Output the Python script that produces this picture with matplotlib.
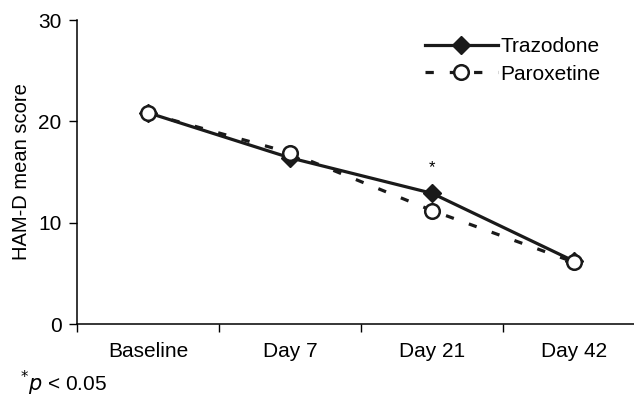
import matplotlib
matplotlib.use("Agg")
import matplotlib.pyplot as plt
import numpy as np

plt.rcParams['font.family'] = ['Liberation Sans', 'DejaVu Sans']

categories = ["Baseline", "Day 7", "Day 21", "Day 42"]
trazodone = [20.85, 16.4, 12.9, 6.2]
paroxetine = [20.8, 16.9, 11.2, 6.1]
yticks = [0, 10, 20, 30]

fig = plt.figure(figsize=(6.34, 3.97), dpi=100)
W, H = 634, 397
ax = fig.add_axes([77 / W, (H - 324) / H, 568 / W, 304 / H])

x = np.arange(len(categories)) + 0.5
ax.plot(x, trazodone, color='#1a1a1a', lw=2.3, marker='D', markersize=9.5,
        markerfacecolor='#1a1a1a', markeredgecolor='#1a1a1a', label='Trazodone', zorder=3)
ax.plot(x, paroxetine, color='#1a1a1a', lw=2.3, linestyle=(0, (2.6, 5.0)), marker='o',
        markersize=10.5, markerfacecolor='white', markeredgecolor='#1a1a1a',
        markeredgewidth=1.8, label='Paroxetine', zorder=4)

ax.text(x[2], trazodone[2] + 1.8, '*', ha='center', va='bottom', fontsize=12)

ax.set_xlim(0, 4)
ax.set_ylim(0, 30)
ax.set_yticks(yticks)
ax.set_xticks([0, 1, 2, 3, 4])
ax.set_xticklabels([])
ax.set_xticks(x, minor=True)
ax.set_xticklabels(categories, minor=True, fontsize=15)
ax.tick_params(axis='x', which='minor', length=0, pad=13)
ax.tick_params(axis='x', which='major', direction='out', length=6, width=1)
ax.tick_params(axis='y', direction='out', length=6, width=1, labelsize=15, pad=5)

for s in ['top', 'right']:
    ax.spines[s].set_visible(False)
for s in ['left', 'bottom']:
    ax.spines[s].set_linewidth(1.1)

ax.set_ylabel('HAM-D mean score', fontsize=14.5, labelpad=5)

leg = ax.legend(loc='upper left', bbox_to_anchor=(0.579, 1.005), frameon=False,
                fontsize=15, handlelength=3.5, handletextpad=0.15, labelspacing=0.4)

fig.text(20 / W, 1 - 383 / H, r'$^{*}$' + r'$\it{p}$' + ' < 0.05', fontsize=15,
         va='center', ha='left')

fig.savefig('out.png', dpi=100)
